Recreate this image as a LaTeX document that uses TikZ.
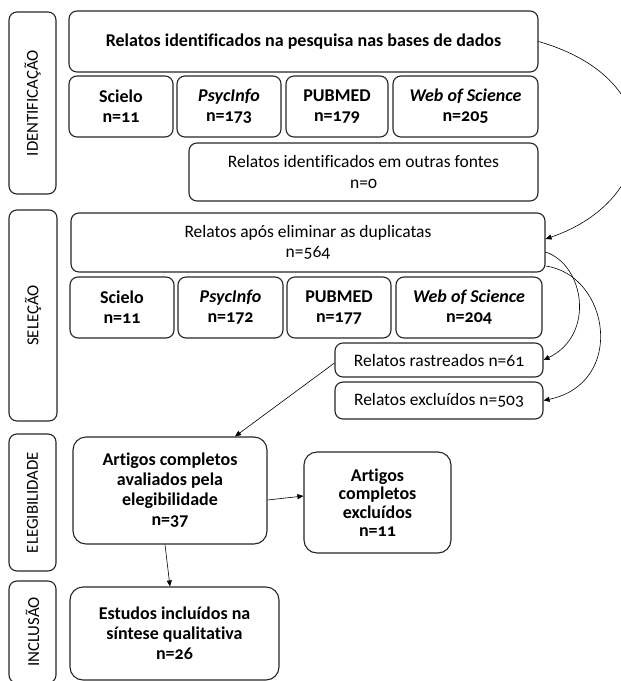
\documentclass[tikz,border=0pt]{standalone}
\usepackage{fontspec}
\setmainfont{Carlito}[Numbers=OldStyle, Ligatures=NoCommon]
\usetikzlibrary{arrows.meta}

\begin{document}
\begin{tikzpicture}[x=1pt, y=-1pt,
    box/.style={draw=black!85, line width=1.1pt, rounded corners=8pt, align=center, inner sep=2pt},
    bold/.style={box, font=\fontsize{18}{20}\selectfont\bfseries},
    plain/.style={box, font=\fontsize{17.5}{20.5}\selectfont},
    big/.style={bold, rounded corners=13pt, font=\fontsize{18}{20}\selectfont\bfseries},
    side/.style={box, rotate=90, font=\fontsize{16.8}{19}\selectfont},
    arrow/.style={-{Triangle[length=6pt,width=5pt]}, line width=0.6pt}
]
    \useasboundingbox (0,0) rectangle (621,681);
    \clip (0,0) rectangle (621,681);

    % Phases
    \node[side, minimum width=182pt, minimum height=47pt] (ident) at (32.5,103) {IDENTIFICAÇÃO};
    \node[side, minimum width=211pt, minimum height=48pt] (selec) at (33,315.5) {SELEÇÃO};
    \node[side, minimum width=137pt, minimum height=47pt] (eleg) at (32.5,502.5) {ELEGIBILIDADE};
    \node[side, minimum width=102pt, minimum height=47pt] (incl) at (32.5,632) {INCLUSÃO};

    % Identification
    \node[bold, minimum width=469pt, minimum height=61pt] (search) at (303.5,41.5) {Relatos identificados na pesquisa nas bases de dados};
    \node[bold, minimum width=104pt, minimum height=61pt] (scielo1) at (121,106.5) {Scielo\\n=11};
    \node[bold, minimum width=104pt, minimum height=61pt] (psyc1) at (229,106.5) {\textit{PsycInfo}\\n=173};
    \node[bold, minimum width=102pt, minimum height=61pt] (pubmed1) at (337,106.5) {PUBMED\\n=179};
    \node[bold, minimum width=145pt, minimum height=61pt] (wos1) at (465.5,106.5) {\textit{Web of Science}\\n=205};
    \node[plain, minimum width=349pt, minimum height=58pt] (other) at (363.5,172) {Relatos identificados em outras fontes\\n=0};

    % Selection
    \node[plain, minimum width=474pt, minimum height=59pt] (dup) at (308,242.5) {Relatos após eliminar as duplicatas\\n=564};
    \node[bold, minimum width=104pt, minimum height=61pt] (scielo2) at (122,307.5) {Scielo\\n=11};
    \node[bold, minimum width=105pt, minimum height=61pt] (psyc2) at (230.5,307.5) {\textit{PsycInfo}\\n=172};
    \node[bold, minimum width=104pt, minimum height=61pt] (pubmed2) at (339,307.5) {PUBMED\\n=177};
    \node[bold, minimum width=146pt, minimum height=61pt] (wos2) at (469,307.5) {\textit{Web of Science}\\n=204};
    \node[plain, minimum width=208pt, minimum height=34pt] (screened) at (439,360) {Relatos rastreados n=61};
    \node[plain, minimum width=208pt, minimum height=37pt] (excluded) at (439,400.5) {Relatos excluídos n=503};

    % Eligibility and inclusion
    \node[big, minimum width=194pt, minimum height=107pt] (assessed) at (170,490.5) {Artigos completos\\avaliados pela\\elegibilidade\\n=37};
    \node[big, minimum width=147pt, minimum height=101pt, font=\fontsize{18}{18.5}\selectfont\bfseries] (fullexcl) at (377.5,502.5) {Artigos\\completos\\excluídos\\n=11};
    \node[big, minimum width=209pt, minimum height=93pt] (included) at (174.5,633.5) {Estudos incluídos na\\síntese qualitativa\\n=26};

    % Arrows
    \draw[arrow] (search.east) .. controls +(134,38.5) and +(114,-39) .. ([yshift=3.5pt]dup.east);
    \draw[arrow] ([yshift=-9.5pt]dup.east) .. controls +(39,13) and +(52,-25) .. (screened.east);
    \draw[arrow] ([yshift=-23.5pt]dup.east) .. controls +(64,9) and +(83,-17.5) .. (excluded.east);
    \draw[arrow] ([yshift=-3pt]screened.west) -- ([xshift=65pt]assessed.north);
    \draw[arrow] ([yshift=-9.5pt]assessed.east) -- ([yshift=6.5pt]fullexcl.west);
    \draw[arrow] ([xshift=-5pt]assessed.south) -- ([xshift=-4.5pt]included.north);
\end{tikzpicture}
\end{document}
